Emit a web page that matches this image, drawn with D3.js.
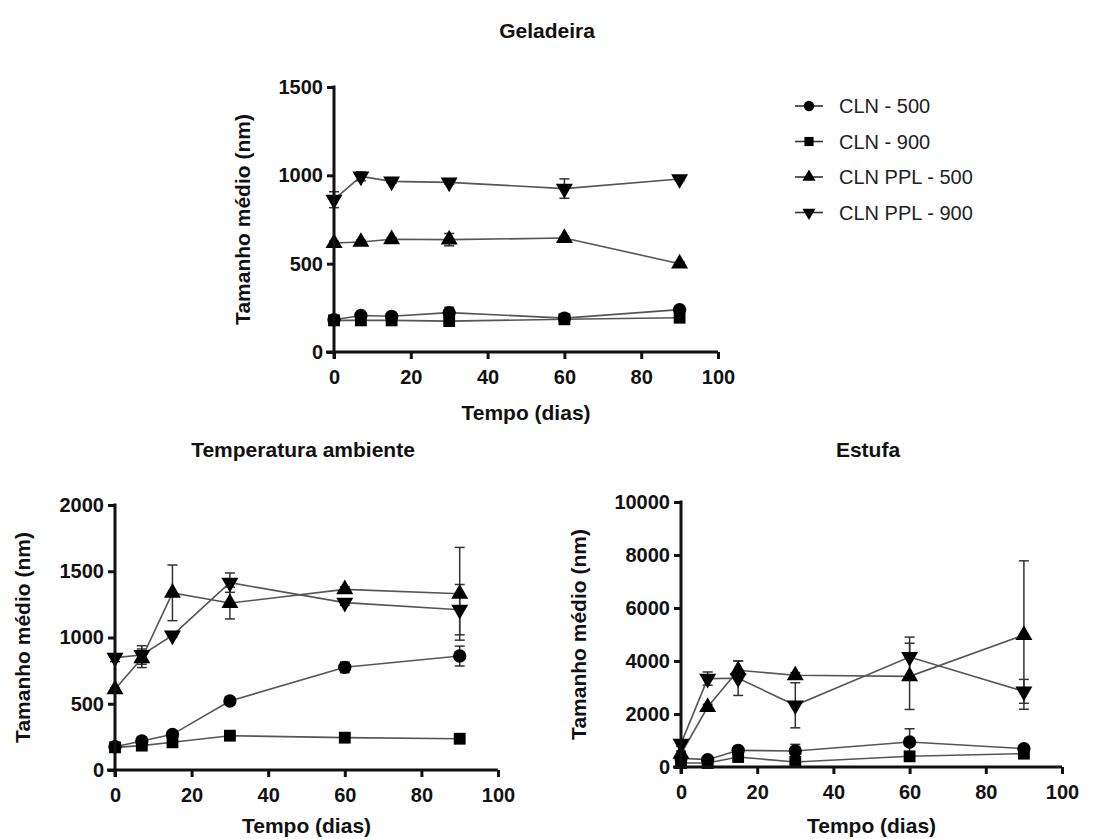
<!DOCTYPE html>
<html lang="pt">
<head>
    <meta charset="UTF-8">
    <title>Tamanho médio</title>
    <style>
        body {
            margin: 0;
            background: #fff;
        }
        text {
            font-family: "Liberation Sans", Arial, sans-serif;
        }
    </style>
</head>
<body>
    <script src="https://d3js.org/d3.v7.min.js"></script>
    <script>
        const W = 1102
        const H = 839

        // dias de medição
        const days = [0, 7, 15, 30, 60, 90]
        const seriesNames = ['CLN - 500', 'CLN - 900', 'CLN PPL - 500', 'CLN PPL - 900']
        const xTicks = [0, 20, 40, 60, 80, 100]

        // Geladeira
        const gelCln500 = [183, 207, 202, 223, 192, 240]
        const gelCln500Err = [10, 10, 10, 30, 10, 12]
        const gelCln900 = [179, 179, 179, 175, 185, 194]
        const gelCln900Err = [5, 5, 5, 5, 5, 5]
        const gelPpl500 = [617, 623, 638, 636, 645, 500]
        const gelPpl500Err = [10, 10, 10, 35, 10, 10]
        const gelPpl900 = [862, 994, 966, 960, 925, 979]
        const gelPpl900Err = [45, 25, 10, 10, 55, 10]
        const gelTicks = [0, 500, 1000, 1500]

        // Temperatura ambiente
        const ambCln500 = [176, 219, 269, 521, 775, 860]
        const ambCln500Err = [10, 15, 20, 15, 40, 75]
        const ambCln900 = [171, 184, 209, 259, 244, 236]
        const ambCln900Err = [10, 10, 10, 15, 10, 10]
        const ambPpl500 = [609, 843, 1337, 1260, 1363, 1330]
        const ambPpl500Err = [10, 70, 210, 120, 20, 350]
        const ambPpl900 = [848, 868, 1016, 1414, 1263, 1210]
        const ambPpl900Err = [30, 70, 15, 73, 20, 190]
        const ambTicks = [0, 500, 1000, 1500, 2000]

        // Estufa
        const estCln500 = [330, 277, 629, 604, 943, 692]
        const estCln500Err = [100, 50, 80, 250, 500, 100]
        const estCln900 = [150, 151, 377, 189, 403, 503]
        const estCln900Err = [30, 30, 50, 50, 50, 80]
        const estPpl500 = [500, 2264, 3650, 3460, 3421, 4980]
        const estPpl500Err = [100, 100, 350, 100, 1250, 2800]
        const estPpl900 = [881, 3336, 3350, 2328, 4151, 2855]
        const estPpl900Err = [100, 250, 650, 850, 750, 450]
        const estTicks = [0, 2000, 4000, 6000, 8000, 10000]

        const symbols = [
            { type: d3.symbolCircle, size: 140, rot: 0 },
            { type: d3.symbolSquare, size: 140, rot: 0 },
            { type: d3.symbolTriangle, size: 125, rot: 0 },
            { type: d3.symbolTriangle, size: 125, rot: 180 }
        ]

        const svg = d3.select('body')
            .append('svg')
            .attr('width', W)
            .attr('height', H)

        function drawPanel(p) {
            const x = d3.scaleLinear().domain([0, 100]).range([p.left, p.right])
            const y = d3.scaleLinear().domain([0, d3.max(p.yTicks)]).range([p.bottom, p.top])
            const g = svg.append('g')

            // título
            g.append('text')
                .attr('x', p.titleX)
                .attr('y', p.titleY)
                .attr('text-anchor', 'middle')
                .attr('font-size', 21)
                .attr('font-weight', 'bold')
                .attr('fill', '#111')
                .text(p.title)

            const series = p.series.map((vals, i) => ({
                sym: symbols[i],
                pts: days.map((d, j) => ({ d: d, v: vals[j], e: p.errors[i][j] }))
            }))

            // barras de erro
            series.forEach(s => {
                const eg = g.append('g')
                    .attr('stroke', '#333')
                    .attr('stroke-width', 1.5)
                eg.selectAll('line.v')
                    .data(s.pts)
                    .enter()
                    .append('line')
                    .attr('x1', d => x(d.d))
                    .attr('x2', d => x(d.d))
                    .attr('y1', d => y(d.v - d.e))
                    .attr('y2', d => y(d.v + d.e))
                ;[1, -1].forEach(sign => {
                    eg.selectAll('line.c' + sign)
                        .data(s.pts)
                        .enter()
                        .append('line')
                        .attr('x1', d => x(d.d) - 5)
                        .attr('x2', d => x(d.d) + 5)
                        .attr('y1', d => y(d.v + sign * d.e))
                        .attr('y2', d => y(d.v + sign * d.e))
                })
            })

            const line = d3.line()
                .x(d => x(d.d))
                .y(d => y(d.v))

            series.forEach(s => {
                g.append('path')
                    .datum(s.pts)
                    .attr('d', line)
                    .attr('fill', 'none')
                    .attr('stroke', '#555')
                    .attr('stroke-width', 1.6)
            })

            series.forEach(s => {
                g.selectAll(null)
                    .data(s.pts)
                    .enter()
                    .append('path')
                    .attr('d', d3.symbol().type(s.sym.type).size(s.sym.size))
                    .attr('transform', d => `translate(${x(d.d)},${y(d.v)}) rotate(${s.sym.rot})`)
                    .attr('fill', '#000')
            })

            // eixos
            const xAxis = d3.axisBottom(x).tickValues(xTicks).tickFormat(d3.format('d'))
                .tickSize(7).tickSizeOuter(0).tickPadding(11)
            const yAxis = d3.axisLeft(y).tickValues(p.yTicks).tickFormat(d3.format('d'))
                .tickSize(7).tickSizeOuter(0).tickPadding(4)

            const gx = g.append('g')
                .attr('transform', `translate(0,${p.bottom})`)
                .call(xAxis)
            const gy = g.append('g')
                .attr('transform', `translate(${p.left},0)`)
                .call(yAxis)

            ;[gx, gy].forEach(ax => {
                ax.select('.domain').attr('stroke', '#111').attr('stroke-width', 3)
                ax.selectAll('.tick line').attr('stroke', '#111').attr('stroke-width', 3)
                ax.selectAll('.tick text')
                    .attr('font-size', 20)
                    .attr('font-weight', 'bold')
                    .attr('fill', '#111')
                    .attr('font-family', '"Liberation Sans", Arial, sans-serif')
            })
            gx.select('.domain').attr('d', `M${p.left - 8},0H${p.right}`)
            gy.select('.domain').attr('d', `M0,${p.top - 1.5}V${p.bottom + 7}`)

            g.append('text')
                .attr('x', (p.left + p.right) / 2)
                .attr('y', p.xTitleY)
                .attr('text-anchor', 'middle')
                .attr('font-size', 21)
                .attr('font-weight', 'bold')
                .attr('fill', '#111')
                .text('Tempo (dias)')

            g.append('text')
                .attr('transform', `translate(${p.yTitleX},${(p.top + p.bottom) / 2}) rotate(-90)`)
                .attr('text-anchor', 'middle')
                .attr('dy', '0.35em')
                .attr('font-size', 21)
                .attr('font-weight', 'bold')
                .attr('fill', '#111')
                .text('Tamanho médio (nm)')
        }

        drawPanel({
            title: 'Geladeira', titleX: 547, titleY: 38,
            left: 334, right: 718, top: 87, bottom: 352,
            yTicks: gelTicks, xTitleY: 420, yTitleX: 243,
            series: [gelCln500, gelCln900, gelPpl500, gelPpl900],
            errors: [gelCln500Err, gelCln900Err, gelPpl500Err, gelPpl900Err]
        })

        drawPanel({
            title: 'Temperatura ambiente', titleX: 303, titleY: 457,
            left: 115, right: 498, top: 505, bottom: 770,
            yTicks: ambTicks, xTitleY: 833, yTitleX: 23,
            series: [ambCln500, ambCln900, ambPpl500, ambPpl900],
            errors: [ambCln500Err, ambCln900Err, ambPpl500Err, ambPpl900Err]
        })

        drawPanel({
            title: 'Estufa', titleX: 868, titleY: 457,
            left: 681, right: 1062, top: 502, bottom: 767,
            yTicks: estTicks, xTitleY: 833, yTitleX: 579,
            series: [estCln500, estCln900, estPpl500, estPpl900],
            errors: [estCln500Err, estCln900Err, estPpl500Err, estPpl900Err]
        })

        // legenda
        const legend = svg.append('g')
            .selectAll('g')
            .data(seriesNames)
            .enter()
            .append('g')
            .attr('transform', (d, i) => `translate(795,${106 + i * 35.5})`)

        legend.append('line')
            .attr('x1', 0)
            .attr('x2', 28)
            .attr('stroke', '#333')
            .attr('stroke-width', 1.6)

        legend.append('path')
            .attr('d', (d, i) => d3.symbol().type(symbols[i].type).size(symbols[i].size * 0.6)())
            .attr('transform', (d, i) => `translate(14,0) rotate(${symbols[i].rot})`)
            .attr('fill', '#000')

        legend.append('text')
            .attr('x', 44)
            .attr('dy', '0.35em')
            .attr('font-size', 20)
            .attr('fill', '#222')
            .text(d => d)
    </script>
</body>
</html>
